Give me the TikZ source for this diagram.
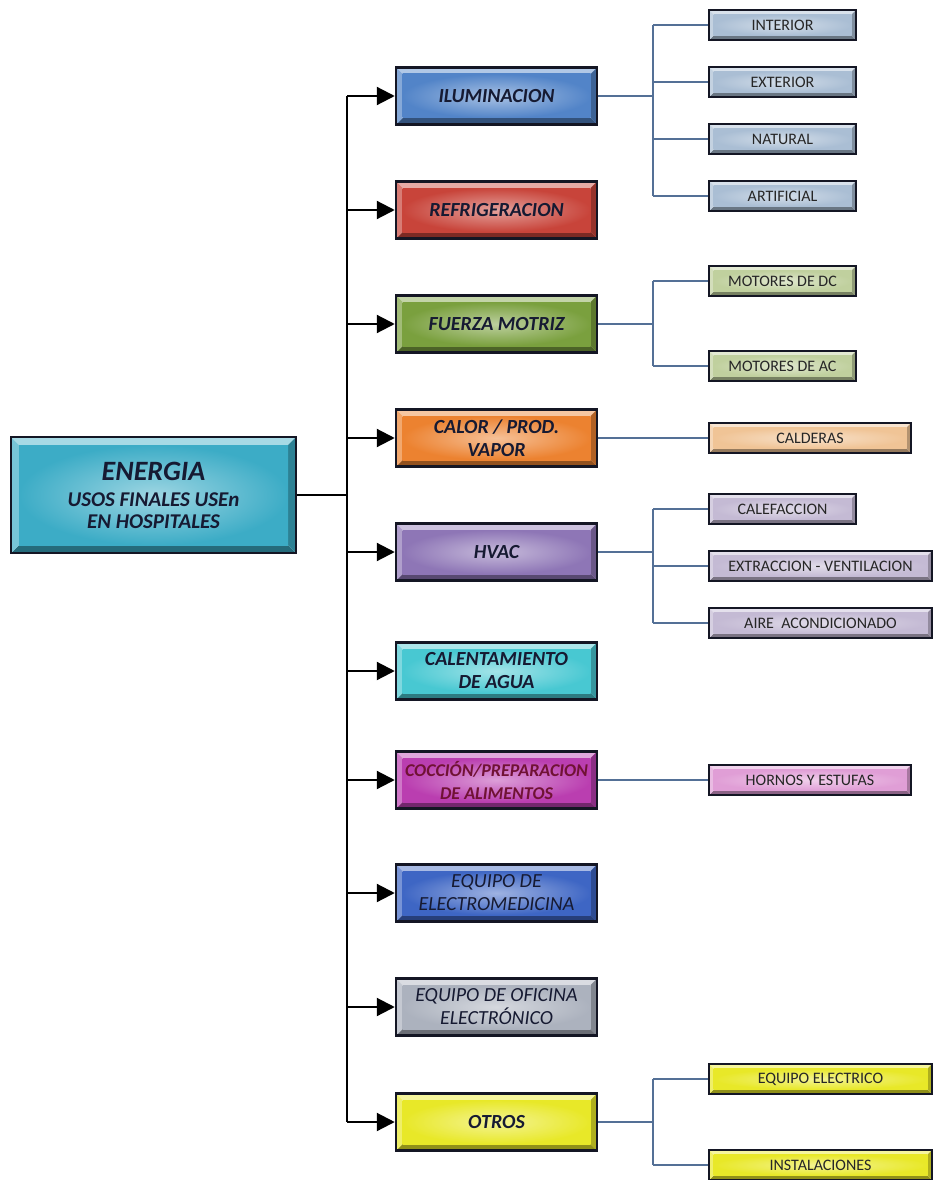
\documentclass[tikz,border=0pt]{standalone}
\usepackage{fontspec}
\setmainfont{Carlito}
\usetikzlibrary{arrows.meta}

% box colours
\definecolor{cEnergia}{RGB}{60,172,198}
\definecolor{cIlum}{RGB}{82,132,200}
\definecolor{cRefri}{RGB}{200,68,58}
\definecolor{cFuerza}{RGB}{122,160,62}
\definecolor{cCalor}{RGB}{236,130,48}
\definecolor{cHvac}{RGB}{142,118,182}
\definecolor{cCalent}{RGB}{72,200,210}
\definecolor{cCoccion}{RGB}{186,62,176}
\definecolor{cMedic}{RGB}{62,102,196}
\definecolor{cOficina}{RGB}{172,178,190}
\definecolor{cOtros}{RGB}{232,232,40}
\definecolor{sIlum}{RGB}{170,190,212}
\definecolor{sFuerza}{RGB}{192,208,158}
\definecolor{sCalor}{RGB}{240,196,150}
\definecolor{sHvac}{RGB}{196,186,212}
\definecolor{sCoccion}{RGB}{224,158,214}
\definecolor{sOtros}{RGB}{232,232,40}
\definecolor{edge}{RGB}{20,22,36}
\definecolor{labeltext}{RGB}{22,26,50}
\definecolor{cocciontext}{RGB}{112,18,52}
\definecolor{subline}{RGB}{84,112,150}

% bevelled face: colour, bevel width
\newcommand{\drawbevel}[2]{%
  \path (path picture bounding box.south west) coordinate (bvSW)
        (path picture bounding box.north east) coordinate (bvNE)
        (path picture bounding box.north west) coordinate (bvNW)
        (path picture bounding box.south east) coordinate (bvSE);
  \fill[#1!62!black] (bvSW) -- (bvSE) -- ([shift={(-#2,#2)}]bvSE) -- ([shift={(#2,#2)}]bvSW) -- cycle;
  \fill[#1!45!white] (bvNW) -- (bvNE) -- ([shift={(-#2,-#2)}]bvNE) -- ([shift={(#2,-#2)}]bvNW) -- cycle;
  \fill[#1!70!white] (bvNW) -- (bvSW) -- ([shift={(#2,#2)}]bvSW) -- ([shift={(#2,-#2)}]bvNW) -- cycle;
  \fill[#1!75!black] (bvNE) -- (bvSE) -- ([shift={(-#2,#2)}]bvSE) -- ([shift={(-#2,-#2)}]bvNE) -- cycle;
  \shade[inner color=#1!50!white, outer color=#1] ([shift={(#2,#2)}]bvSW) rectangle ([shift={(-#2,-#2)}]bvNE);
}

\tikzset{
  x=1pt, y=-1pt,
  mainbox/.style={draw=edge, line width=2.8pt, inner sep=0pt,
    minimum width=285pt, minimum height=116pt, align=center,
    text=labeltext, font=\fontsize{21}{22}\selectfont\bfseries\itshape,
    path picture={\drawbevel{#1}{8pt}}},
  catbox/.style={draw=edge, line width=2.5pt, inner sep=0pt,
    minimum width=201pt, minimum height=57pt, align=center,
    text=labeltext, font=\fontsize{20}{23}\selectfont\bfseries\itshape,
    path picture={\drawbevel{#1}{6.5pt}}},
  subbox/.style={draw=edge, line width=2.2pt, inner sep=0pt,
    minimum width=147pt, minimum height=30pt, align=center,
    text=black!85, font=\fontsize{16}{18}\selectfont,
    path picture={\drawbevel{#1}{4.5pt}}},
  trunkline/.style={line width=2.2pt, black},
  trunkarrow/.style={line width=2.2pt, black, -{Triangle[length=18pt,width=18pt]}},
  branch/.style={line width=1.1pt, subline},
}

\begin{document}
\begin{tikzpicture}
\useasboundingbox (0,0) rectangle (934,1180);
\fill[white] (0,0) rectangle (934,1180);

% root
\node[mainbox=cEnergia] (root) at (153.5,495) {%
  {\fontsize{28}{30}\selectfont ENERGIA}\\[4pt]
  USOS FINALES USEn\\
  EN HOSPITALES};

% end uses
\node[catbox=cIlum]    (c1)  at (496.5,96)   {ILUMINACION};
\node[catbox=cRefri]   (c2)  at (496.5,210)  {REFRIGERACION};
\node[catbox=cFuerza]  (c3)  at (496.5,324)  {FUERZA MOTRIZ};
\node[catbox=cCalor]   (c4)  at (496.5,438)  {CALOR / PROD.\\VAPOR};
\node[catbox=cHvac]    (c5)  at (496.5,552)  {HVAC};
\node[catbox=cCalent]  (c6)  at (496.5,671)  {CALENTAMIENTO\\DE AGUA};
\node[catbox=cCoccion, text=cocciontext, font=\fontsize{18}{23}\selectfont\bfseries\itshape] (c7) at (496.5,780) {COCCIÓN/PREPARACION\\DE ALIMENTOS};
\node[catbox=cMedic, font=\fontsize{20}{23}\selectfont\itshape]   (c8)  at (496.5,893)  {EQUIPO DE\\ELECTROMEDICINA};
\node[catbox=cOficina, font=\fontsize{20}{23}\selectfont\itshape] (c9)  at (496.5,1007) {EQUIPO DE OFICINA\\ELECTRÓNICO};
\node[catbox=cOtros]   (c10) at (496.5,1122) {OTROS};

% sub items
\node[subbox=sIlum] (s11) at (782.5,25)  {INTERIOR};
\node[subbox=sIlum] (s12) at (782.5,82)  {EXTERIOR};
\node[subbox=sIlum] (s13) at (782.5,139) {NATURAL};
\node[subbox=sIlum] (s14) at (782.5,196) {ARTIFICIAL};
\node[subbox=sFuerza] (s31) at (782.5,281) {MOTORES DE DC};
\node[subbox=sFuerza] (s32) at (782.5,366) {MOTORES DE AC};
\node[subbox=sCalor, minimum width=202pt] (s41) at (810,438) {CALDERAS};
\node[subbox=sHvac] (s51) at (782.5,509) {CALEFACCION};
\node[subbox=sHvac, minimum width=223pt] (s52) at (820.5,566) {EXTRACCION - VENTILACION};
\node[subbox=sHvac, minimum width=223pt] (s53) at (820.5,623) {AIRE\ \ ACONDICIONADO};
\node[subbox=sCoccion, minimum width=202pt] (s71) at (810,780) {HORNOS Y ESTUFAS};
\node[subbox=sOtros, minimum width=223pt] (s101) at (820.5,1079) {EQUIPO ELECTRICO};
\node[subbox=sOtros, minimum width=223pt] (s102) at (820.5,1165) {INSTALACIONES};

% main trunk
\coordinate (trunk) at (347,495);
\draw[trunkline] (root.east) -- (trunk);
\draw[trunkline] (trunk |- c1.west) -- (trunk |- c10.west);
\foreach \c in {c1,c2,c3,c4,c5,c6,c7,c8,c9,c10}
  \draw[trunkarrow] (trunk |- \c.west) -- (\c.west);

% sub branches
\coordinate (fork) at (653,0);
\draw[branch] (c1.east) -- (fork |- c1.east);
\draw[branch] (fork |- s11.west) -- (fork |- s14.west);
\foreach \s in {s11,s12,s13,s14} \draw[branch] (fork |- \s.west) -- (\s.west);

\draw[branch] (c3.east) -- (fork |- c3.east);
\draw[branch] (fork |- s31.west) -- (fork |- s32.west);
\foreach \s in {s31,s32} \draw[branch] (fork |- \s.west) -- (\s.west);

\draw[branch] (c4.east) -- (s41.west);

\draw[branch] (c5.east) -- (fork |- c5.east);
\draw[branch] (fork |- s51.west) -- (fork |- s53.west);
\foreach \s in {s51,s52,s53} \draw[branch] (fork |- \s.west) -- (\s.west);

\draw[branch] (c7.east) -- (s71.west);

\draw[branch] (c10.east) -- (fork |- c10.east);
\draw[branch] (fork |- s101.west) -- (fork |- s102.west);
\foreach \s in {s101,s102} \draw[branch] (fork |- \s.west) -- (\s.west);
\end{tikzpicture}
\end{document}
